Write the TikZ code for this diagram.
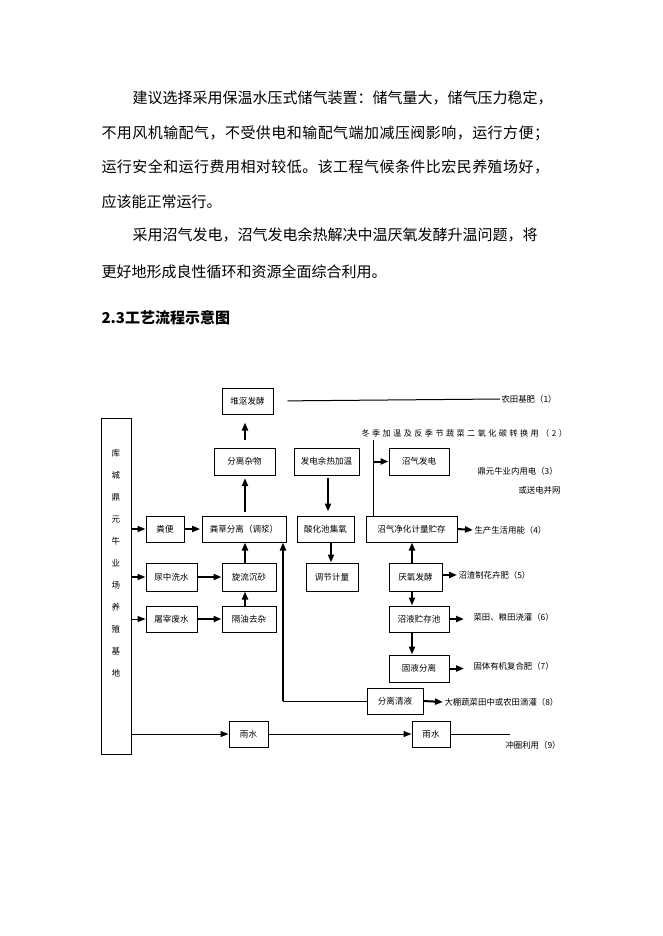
\documentclass[tikz,border=0pt]{standalone}
\usepackage{fontspec}
\setmainfont{Noto Sans CJK SC}
\newfontfamily\widecjk[LetterSpace=30]{Noto Sans CJK SC}
\newfontfamily\parawide[LetterSpace=3]{Noto Sans CJK SC}
\usetikzlibrary{arrows.meta}

\tikzset{every picture/.style={line width=0.75pt}}
\tikzset{
  box/.style={draw, inner sep=0pt, font=\fontsize{6.4}{7}\selectfont},
  lbl/.style={anchor=west, inner sep=0.75pt, font=\fontsize{6.3}{7}\selectfont},
  para/.style={anchor=west, inner sep=0pt, font=\fontsize{11.25}{13}\selectfont},
  flow/.style={line width=1.5pt, -{Triangle[length=6pt,width=4.5pt]}},
  feed/.style={-{Triangle[length=6pt,width=4.5pt]}},
}

\begin{document}
\begin{tikzpicture}[x=0.75pt,y=0.75pt,yscale=-1,xscale=1]
\useasboundingbox (0,0) rectangle (662,936);

% Text Node
\node[para] (p1) at (132,98) {建议选择采用保温水压式储气装置：储气量大，储气压力稳定，};
\node[para, font=\fontsize{11.25}{13}\parawide] (p2) at (101,133) {不用风机输配气，不受供电和输配气端加减压阀影响，运行方便；};
\node[para, font=\fontsize{11.25}{13}\parawide] (p3) at (101,167) {运行安全和运行费用相对较低。该工程气候条件比宏民养殖场好，};
\node[para] (p4) at (101,202) {应该能正常运行。};
\node[para] (p5) at (132,235) {采用沼气发电，沼气发电余热解决中温厌氧发酵升温问题，将};
\node[para] (p6) at (101,272) {更好地形成良性循环和资源全面综合利用。};
\node[para, font=\fontsize{11.25}{13}\selectfont\bfseries] (head) at (101,318) {2.3工艺流程示意图};

%Shape: Rectangle
\node[box, minimum width=22.5pt, minimum height=252pt] (base) at (116,586) {};
\node[inner sep=0pt, align=center, font=\fontsize{6.4}{16.5}\selectfont] (basetxt) at (116,563) {库\\城\\鼎\\元\\牛\\业\\场\\养\\殖\\基\\地};

\node[box, minimum width=38.25pt, minimum height=19.5pt] (dui) at (247.5,401) {堆沤发酵};
\node[box, minimum width=45.75pt, minimum height=20.25pt] (fenza) at (244.5,461.5) {分离杂物};
\node[box, minimum width=48.75pt, minimum height=20.25pt] (yure) at (326.5,461.5) {发电余热加温};
\node[box, minimum width=45pt, minimum height=20.25pt] (fadian) at (419,461.5) {沼气发电};
\node[box, minimum width=28.5pt, minimum height=19.5pt] (fenbian) at (165,529) {粪便};
\node[box, minimum width=63pt, minimum height=19.5pt] (fencao) at (244,529) {粪草分离（调浆）};
\node[box, minimum width=42.75pt, minimum height=19.5pt] (suanhua) at (325.5,529) {酸化池集氧};
\node[box, minimum width=68.25pt, minimum height=19.5pt] (jinghua) at (411.5,529) {沼气净化计量贮存};
\node[box, minimum width=38.25pt, minimum height=21pt] (niao) at (171.5,577) {尿中洗水};
\node[box, minimum width=40.5pt, minimum height=21pt] (xuanliu) at (249,577) {旋流沉砂};
\node[box, minimum width=39pt, minimum height=21pt] (tiaojie) at (332,577) {调节计量};
\node[box, minimum width=39.75pt, minimum height=21pt] (yanyang) at (415.5,577) {厌氧发酵};
\node[box, minimum width=38.25pt, minimum height=19.5pt] (tuzai) at (171.5,619) {屠宰废水};
\node[box, minimum width=40.5pt, minimum height=19.5pt] (geyou) at (249,619) {隔油去杂};
\node[box, minimum width=45pt, minimum height=19.5pt] (zhaoye) at (419,619) {沼液贮存池};
\node[box, minimum width=45pt, minimum height=20.25pt] (guye) at (419,668.5) {固液分离};
\node[box, minimum width=42pt, minimum height=19.5pt] (qingye) at (395,701) {分离清液};
\node[box, minimum width=29.25pt, minimum height=19.5pt] (yu1) at (248.5,734) {雨水};
\node[box, minimum width=28.5pt, minimum height=19.5pt] (yu2) at (431,734) {雨水};

% Text Node
\node[lbl] (l1) at (500,399) {农田基肥（1）};
\node[lbl, font=\fontsize{6.1}{7}\widecjk] (l2) at (360,433) {冬季加温及反季节蔬菜二氧化碳转换用（2）};
\node[lbl] (l3) at (476,471) {鼎元牛业内用电（3）};
\node[lbl] (l3b) at (517,490) {或送电并网};
\node[lbl] (l4) at (473,530) {生产生活用能（4）};
\node[lbl] (l5) at (457,575) {沼渣制花卉肥（5）};
\node[lbl] (l6) at (472,617) {菜田、粮田浇灌（6）};
\node[lbl] (l7) at (472,666) {固体有机复合肥（7）};
\node[lbl] (l8) at (443,702) {大棚蔬菜田中或农田滴灌（8）};
\node[lbl] (l9) at (504,745) {冲圈利用（9）};

\coordinate (co2) at (373,440);
\coordinate (ret) at (283,701);
\coordinate (c9) at (510,734);

%Straight Lines
\draw [shorten <=10.5pt] (dui.east) -- (l1.west);
\draw [flow, shorten <=6pt, shorten >=6pt] (fenza.north -| 245,0) -- (245,0 |- dui.south);
\draw [flow, shorten <=3pt, shorten >=2pt] (fencao.north -| 245,0) -- (245,0 |- fenza.south);
\draw [flow] (base.east |- fenbian) -- (fenbian.west);
\draw [flow, shorten >=1pt] (fenbian.east) -- (fencao.west);
\draw [flow, shorten <=2pt, shorten >=3pt] (yure.south -| 328,0) -- (328,0 |- suanhua.north);
\draw (jinghua.north -| co2) -- (co2);
\draw [flow] (co2 |- fadian.west) -- (fadian.west);
\draw [flow] (jinghua.east) -- (l4.west);
\draw [flow] (suanhua.south -| 331,0) -- (331,0 |- tiaojie.north);
\draw [flow] (yanyang.north -| 412,0) -- (412,0 |- jinghua.south);
\draw [flow] (xuanliu.north -| 245,0) -- (245,0 |- fencao.south);
\draw (qingye.west) -- (ret);
\draw [flow] (ret) -- (ret |- fencao.south);
\draw [flow] (base.east |- niao) -- (niao.west);
\draw [flow] (niao.east) -- (xuanliu.west);
\draw [feed] (base.east |- tuzai) -- (tuzai.west);
\draw [flow] (tuzai.east) -- (geyou.west);
\draw [flow] (geyou.north -| 245,0) -- (245,0 |- xuanliu.south);
\draw [feed] (base.east |- yu1) -- (yu1.west);
\draw [feed] (yu1.east) -- (yu2.west);
\draw (yu2.east) -- (c9);
\draw [flow] (yanyang.east |- l5.west) -- (l5.west);
\draw [flow] (yanyang.south -| 412,0) -- (412,0 |- zhaoye.north);
\draw [flow, shorten >=6pt] (zhaoye.east) -- (zhaoye.east -| l6.west);
\draw [flow] (zhaoye.south -| 412,0) -- (412,0 |- guye.north);
\draw [flow, shorten >=6pt] (guye.east) -- (guye.east -| l7.west);
\draw [flow] (qingye.east) -- (l8.west);

\end{tikzpicture}
\end{document}
